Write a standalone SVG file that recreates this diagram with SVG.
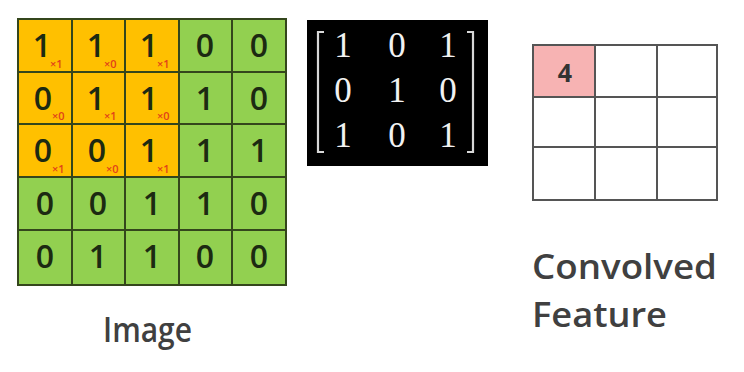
<svg xmlns="http://www.w3.org/2000/svg" width="744" height="372" viewBox="0 0 744 372">
<style>
.o{fill:#FFC000}
.g{fill:#92D050}
.d{font-family:"Open Sans","Liberation Sans",sans-serif;font-weight:600;font-size:32px;fill:#1c2a12;text-anchor:middle}
.s{font-family:"Open Sans","Liberation Sans",sans-serif;font-size:11px;font-weight:600;fill:#e2421a}
.m{font-family:"Liberation Serif",serif;font-size:35px;fill:#f2f2f2;text-anchor:middle}
.lbl{font-family:"Open Sans","Liberation Sans",sans-serif;font-size:34px;font-weight:600;fill:#404040}
.gl{stroke:#34461c;stroke-width:2;fill:none}
.fl{stroke:#555;stroke-width:2;fill:none}
</style>
<rect width="744" height="372" fill="#fff"/>
<g id="image">
<rect class="g" x="18" y="19" width="268" height="266"/>
<rect class="o" x="18" y="19" width="161" height="158"/>
<path class="gl" d="M18 19H286V285H18Z M72 19V285 M125 19V285 M179 19V285 M232 19V285 M18 72H286 M18 124H286 M18 177H286 M18 230H286"/>
<g class="d">
<text x="42" y="57">1</text><text x="96" y="57">1</text><text x="149" y="57">1</text><text x="205" y="57">0</text><text x="259" y="57">0</text>
<text x="43" y="110">0</text><text x="96" y="110">1</text><text x="149" y="110">1</text><text x="205" y="110">1</text><text x="259" y="110">0</text>
<text x="43" y="162">0</text><text x="97" y="162">0</text><text x="149" y="162">1</text><text x="205" y="162">1</text><text x="259" y="162">1</text>
<text x="45" y="215">0</text><text x="98" y="215">0</text><text x="152" y="215">1</text><text x="205" y="215">1</text><text x="259" y="215">0</text>
<text x="45" y="268">0</text><text x="98" y="268">1</text><text x="152" y="268">1</text><text x="205" y="268">0</text><text x="259" y="268">0</text>
</g>
<g class="s">
<text x="50" y="68">×1</text><text x="104" y="68">×0</text><text x="157" y="68">×1</text>
<text x="52" y="120">×0</text><text x="104" y="120">×1</text><text x="157" y="120">×0</text>
<text x="52" y="173">×1</text><text x="106" y="173">×0</text><text x="157" y="173">×1</text>
</g>
<text class="lbl" x="103" y="342" textLength="89" lengthAdjust="spacingAndGlyphs">Image</text>
</g>
<g id="kernel">
<rect x="307" y="20" width="181" height="146" fill="#000"/>
<path d="M324 32H318V152H324 M467 32H473V152H467" stroke="#d8d8d8" stroke-width="2.2" fill="none"/>
<g class="m">
<text x="343" y="57">1</text><text x="397" y="57">0</text><text x="448" y="57">1</text>
<text x="343" y="102">0</text><text x="397" y="102">1</text><text x="448" y="102">0</text>
<text x="343" y="147">1</text><text x="397" y="147">0</text><text x="448" y="147">1</text>
</g>
</g>
<g id="feature">
<rect x="533" y="45" width="62" height="52" fill="#F7B3B3"/>
<path class="fl" d="M533 45H717V200H533Z M595 45V200 M657 45V200 M533 97H717 M533 147H717"/>
<text x="565" y="82" font-family="Open Sans, Liberation Sans, sans-serif" font-weight="700" font-size="25" fill="#333" text-anchor="middle">4</text>
<text class="lbl" x="532" y="279" textLength="185" lengthAdjust="spacingAndGlyphs">Convolved</text>
<text class="lbl" x="532" y="327" textLength="135" lengthAdjust="spacingAndGlyphs">Feature</text>
</g>
</svg>
